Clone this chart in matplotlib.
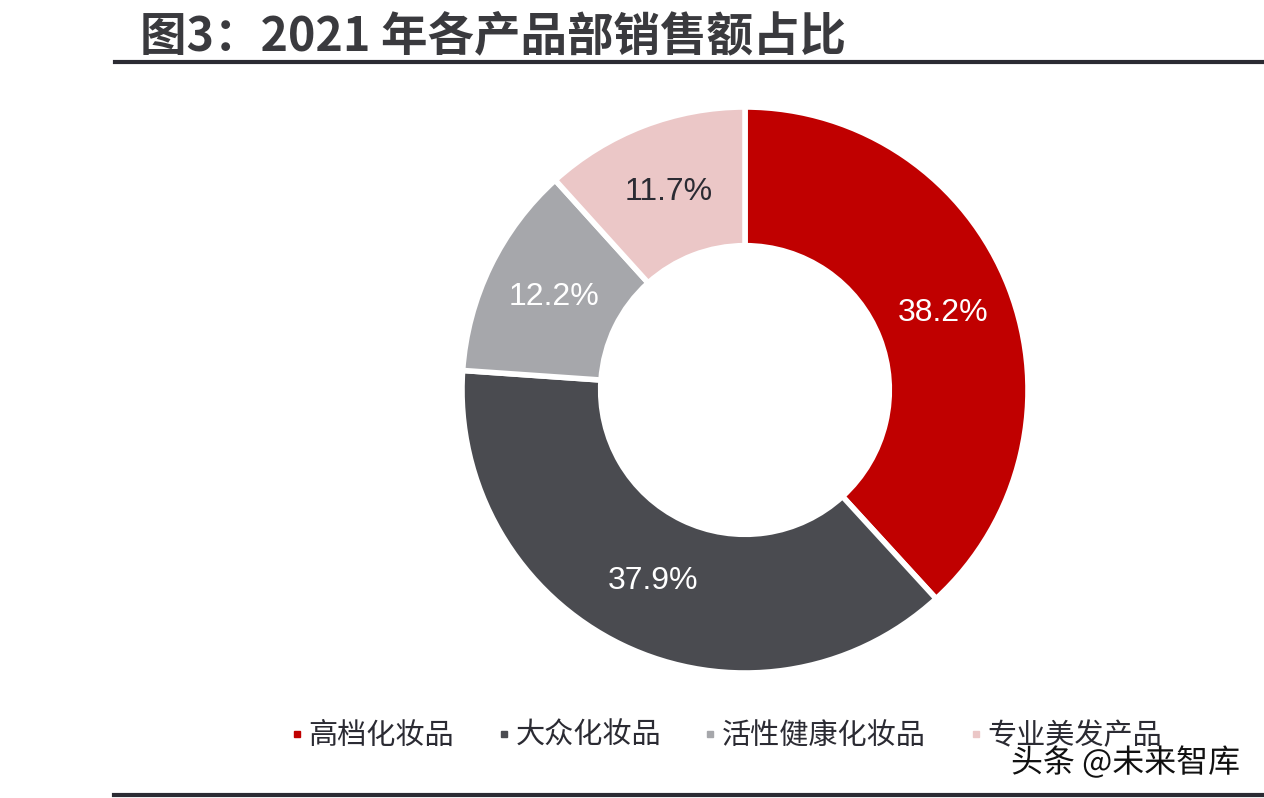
import matplotlib.pyplot as plt
from matplotlib.lines import Line2D
import matplotlib.patheffects as pe

# 2021 年各产品部销售额占比 (%)
labels = ['高档化妆品', '大众化妆品', '活性健康化妆品', '专业美发产品']
shares = [38.2, 37.9, 12.2, 11.7]
colors = ['#c00000', '#4a4b50', '#a6a7ab', '#ebc7c7']
pct_colors = ['white', 'white', 'white', '#2b2b33']

W, H = 1264, 798
fig = plt.figure(figsize=(W / 100, H / 100), dpi=100)
fig.patch.set_facecolor('white')

# 标题和上下横线
fig.text(140 / W, 1 - 36 / H, '图3：2021 年各产品部销售额占比',
         family=['Noto Sans CJK SC', 'DejaVu Sans'], fontsize=33.5,
         fontweight='bold', color='#3a3a3e', ha='left', va='center')
fig.add_artist(Line2D([115 / W, 1], [1 - 62 / H, 1 - 62 / H],
                      transform=fig.transFigure, color='#2b2b33', lw=3))
fig.add_artist(Line2D([114 / W, 1], [1 - 795 / H, 1 - 795 / H],
                      transform=fig.transFigure, color='#2b2b33', lw=3))

# 环形图
cx, cy, r = 745, 390, 283
ax = fig.add_axes([(cx - r) / W, (H - cy - r) / H, 2 * r / W, 2 * r / H])
wedges, texts, autotexts = ax.pie(
    shares, colors=colors, startangle=90, counterclock=False,
    autopct='%.1f%%', pctdistance=0.75, radius=1,
    wedgeprops=dict(width=0.49, edgecolor='white', linewidth=4))
for t, c in zip(autotexts, pct_colors):
    t.set_color(c)
    t.set_fontsize(23)
    t.set_family('Liberation Sans')
ax.set_xlim(-1, 1)
ax.set_ylim(-1, 1)
ax.set_aspect('equal')
ax.axis('off')

# 图例
handles = [Line2D([], [], marker='s', linestyle='none', markersize=5,
                  markerfacecolor=c, markeredgecolor=c) for c in colors]
fig.legend(handles, labels, loc='center', ncol=4, frameon=False,
           bbox_to_anchor=(725 / W, 1 - 736 / H),
           prop={'family': ['Noto Sans CJK SC', 'DejaVu Sans'], 'size': 21},
           labelcolor='#2b2b33', handlelength=0.6, handletextpad=0.1,
           columnspacing=1.4)

# 水印
fig.text(1011 / W, 1 - 763 / H, '头条 @未来智库',
         family=['Noto Sans CJK SC', 'DejaVu Sans'], fontsize=23,
         color='#111111', ha='left', va='center',
         path_effects=[pe.withStroke(linewidth=3, foreground='white')])

fig.savefig('out.png', dpi=100)
